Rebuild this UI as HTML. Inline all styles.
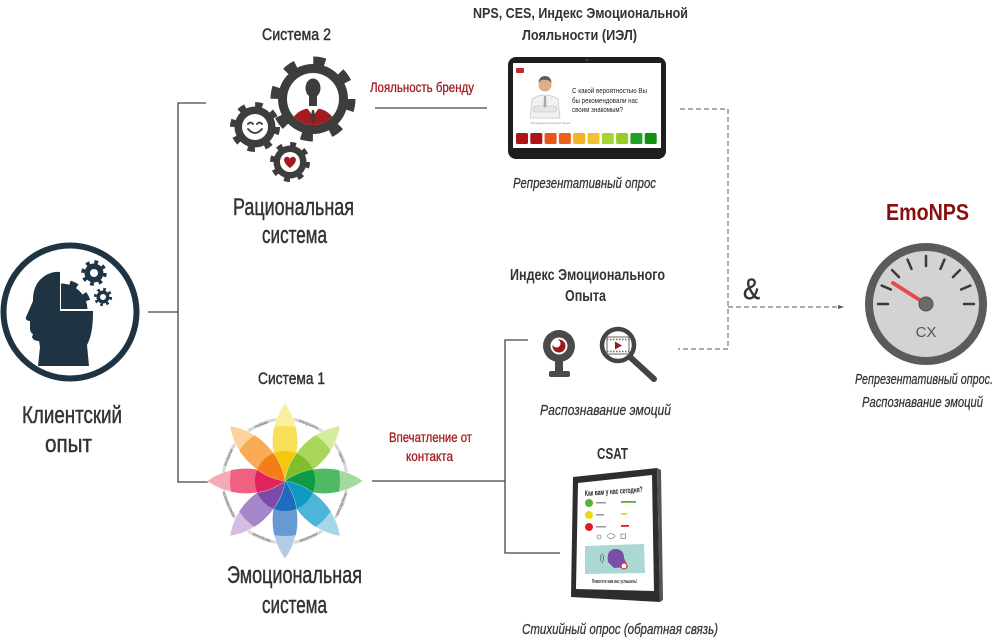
<!DOCTYPE html>
<html><head><meta charset="utf-8">
<style>
html,body{margin:0;padding:0;background:#fff;}
svg{display:block}
text{font-family:"Liberation Sans Narrow","Liberation Sans","DejaVu Sans",sans-serif;}
</style></head><body>
<svg width="1000" height="639" viewBox="0 0 1000 639" xmlns="http://www.w3.org/2000/svg">
<defs>
  <path id="pet" d="M0,0 C22,-16 55,-17 78,0 C55,17 22,16 0,0Z"/>
  <clipPath id="c55"><circle cx="0" cy="0" r="55"/></clipPath>
  <clipPath id="c30"><circle cx="0" cy="0" r="30"/></clipPath>
  <clipPath id="gearHead"><rect x="61" y="262" width="40" height="47"/></clipPath>
  <clipPath id="bigIn"><circle cx="313" cy="99" r="26"/></clipPath>
</defs>

<!-- connectors -->
<g stroke="#444" stroke-width="1.3" fill="none">
  <path d="M148,312 H178 M206,103 H178 V482 H210"/>
  <path d="M375,108 H487"/>
  <path d="M372,481 H505 M528,340 H505 V553 H560"/>
</g>
<g stroke="#777" stroke-width="1.2" fill="none" stroke-dasharray="5 3">
  <path d="M680,109 H728 V349 H678"/>
  <path d="M728,307 H839"/>
</g>
<polygon points="838,305 844,307 838,309" fill="#555"/>

<!-- head icon -->
<circle cx="70" cy="312" r="66.5" fill="none" stroke="#1e3443" stroke-width="6"/>
<path d="M60,272 C52,271 44,275 39,281 C34,287 33,294 33,301 L26,317 C25,319 27,321 30,321 L30,328 C30,331 31,333 33,334 L32,337 C33,340 36,341 39,341 L40,347 L38,366 L89,366 L87,345 C91,337 93,328 93,311 L60,311 Z" fill="#1e3443"/>
<g clip-path="url(#gearHead)">
  <circle cx="61" cy="310" r="26.5" fill="#1e3443"/>
  <circle cx="61" cy="310" r="28.5" fill="none" stroke="#1e3443" stroke-width="5" stroke-dasharray="8 9.9"/>
</g>
<circle cx="94" cy="273" r="9.5" fill="#1e3443"/>
<circle cx="94" cy="273" r="11" fill="none" stroke="#1e3443" stroke-width="3.5" stroke-dasharray="3.8 4.84"/>
<circle cx="94" cy="273" r="4" fill="#fff"/>
<circle cx="103" cy="297" r="6.5" fill="#1e3443"/>
<circle cx="103" cy="297" r="7.8" fill="none" stroke="#1e3443" stroke-width="2.6" stroke-dasharray="2.7 3.43"/>
<circle cx="103" cy="297" r="3" fill="#fff"/>

<!-- gears (System 2) -->
<g fill="#3d3d3d">
  <circle cx="313" cy="99" r="35"/>
  <circle cx="313" cy="99" r="38.5" fill="none" stroke="#3d3d3d" stroke-width="8" stroke-dasharray="12 18.24"/>
  <circle cx="255" cy="127" r="20.5"/>
  <circle cx="255" cy="127" r="22.5" fill="none" stroke="#3d3d3d" stroke-width="5" stroke-dasharray="7.5 10.17"/>
  <circle cx="290" cy="162" r="16.5"/>
  <circle cx="290" cy="162" r="18" fill="none" stroke="#3d3d3d" stroke-width="4" stroke-dasharray="6 8.14"/>
</g>
<circle cx="313" cy="99" r="26" fill="#fff"/>
<g clip-path="url(#bigIn)">
  <ellipse cx="313" cy="125" rx="22" ry="17" fill="#a31a1f"/>
  <polygon points="307,108 313,116 319,108" fill="#fff"/>
  <polygon points="312,110 314,110 315.5,119 313,123 310.5,119" fill="#3d3d3d"/>
  <rect x="309" y="96" width="8" height="10" fill="#3d3d3d"/>
  <ellipse cx="313" cy="88" rx="7.5" ry="9.5" fill="#3d3d3d"/>
</g>
<circle cx="255" cy="127" r="13" fill="#fff"/>
<g fill="none" stroke="#3d3d3d" stroke-width="1.8" stroke-linecap="round">
  <path d="M248,124 Q250.5,121 253,124"/>
  <path d="M257,124 Q259.5,121 262,124"/>
  <path d="M248,129 Q255,137 262,129"/>
</g>
<circle cx="290" cy="162" r="10" fill="#fff"/>
<path d="M290,168 C283,163 283,158 286,157 C288,156 290,158 290,159 C290,158 292,156 294,157 C297,158 297,163 290,168Z" fill="#a31a1f"/>

<!-- emotion wheel -->
<g transform="translate(285,481)">
  <circle cx="0" cy="0" r="62" fill="none" stroke="#d8d8d8" stroke-width="3"/>
  <g transform="rotate(-90)"><use href="#pet" fill="#fbeea0" stroke="#fff" stroke-width="0.6"/><use href="#pet" fill="#f9de5a" clip-path="url(#c55)"/><use href="#pet" fill="#f4c80c" clip-path="url(#c30)"/></g>
  <g transform="rotate(-45)"><use href="#pet" fill="#d4ec9c" stroke="#fff" stroke-width="0.6"/><use href="#pet" fill="#a9d65a" clip-path="url(#c55)"/><use href="#pet" fill="#80bf2a" clip-path="url(#c30)"/></g>
  <g transform="rotate(0)"><use href="#pet" fill="#a4d9a0" stroke="#fff" stroke-width="0.6"/><use href="#pet" fill="#4fb964" clip-path="url(#c55)"/><use href="#pet" fill="#0f9a45" clip-path="url(#c30)"/></g>
  <g transform="rotate(45)"><use href="#pet" fill="#a6d7e6" stroke="#fff" stroke-width="0.6"/><use href="#pet" fill="#4bb6d8" clip-path="url(#c55)"/><use href="#pet" fill="#0f98c3" clip-path="url(#c30)"/></g>
  <g transform="rotate(90)"><use href="#pet" fill="#b3cbe7" stroke="#fff" stroke-width="0.6"/><use href="#pet" fill="#6799d3" clip-path="url(#c55)"/><use href="#pet" fill="#1f6cbf" clip-path="url(#c30)"/></g>
  <g transform="rotate(135)"><use href="#pet" fill="#d3bde3" stroke="#fff" stroke-width="0.6"/><use href="#pet" fill="#a685c9" clip-path="url(#c55)"/><use href="#pet" fill="#7a4ba8" clip-path="url(#c30)"/></g>
  <g transform="rotate(180)"><use href="#pet" fill="#f6a9b6" stroke="#fff" stroke-width="0.6"/><use href="#pet" fill="#ee6183" clip-path="url(#c55)"/><use href="#pet" fill="#e0245a" clip-path="url(#c30)"/></g>
  <g transform="rotate(-135)"><use href="#pet" fill="#fcd39d" stroke="#fff" stroke-width="0.6"/><use href="#pet" fill="#f9ac55" clip-path="url(#c55)"/><use href="#pet" fill="#f47d1a" clip-path="url(#c30)"/></g>
  <g font-size="4" fill="#555">
    <text x="0" y="-60" transform="rotate(-22.5)" text-anchor="middle">любовь</text>
    <text x="0" y="-60" transform="rotate(22.5)" text-anchor="middle">покорность</text>
    <text x="0" y="-60" transform="rotate(67.5)" text-anchor="middle">трепет</text>
    <text x="0" y="-60" transform="rotate(112.5)" text-anchor="middle">неодобрение</text>
    <text x="0" y="-60" transform="rotate(157.5)" text-anchor="middle">раскаяние</text>
    <text x="0" y="-60" transform="rotate(-157.5)" text-anchor="middle">презрение</text>
    <text x="0" y="-60" transform="rotate(-112.5)" text-anchor="middle">агрессивность</text>
    <text x="0" y="-60" transform="rotate(-67.5)" text-anchor="middle">оптимизм</text>
  </g>
</g>

<!-- top tablet -->
<rect x="508" y="57" width="158" height="102" rx="8" fill="#1e1e1e"/>
<rect x="513" y="63" width="148" height="85" fill="#fff"/>
<circle cx="587" cy="60" r="1" fill="#555"/>
<rect x="516" y="68" width="8" height="5" rx="1" fill="#c0282d"/>
<path d="M530,118 L532,99 Q545,91 558,99 L560,118 Z" fill="#f1f1f1" stroke="#c8c8c8" stroke-width="0.8"/>
<rect x="533" y="106" width="24" height="6" rx="3" fill="#e6e6e6" stroke="#bbb" stroke-width="0.6"/>
<path d="M544,96 L546,96 L546.5,106 L545,108 L543.5,106 Z" fill="#aaa"/>
<circle cx="545" cy="85" r="6.5" fill="#dcae8a"/>
<path d="M538.5,83 Q539,76 545,76 Q551,76 551.5,83 Q548,79 545,80 Q541,79 538.5,83Z" fill="#6b5a4a"/>
<text x="531" y="124" font-size="3" fill="#888">Руководитель Сергей Лунин</text>
<g font-size="7.5" fill="#222">
  <text x="572" y="93" textLength="75" lengthAdjust="spacingAndGlyphs">С какой вероятностью Вы</text>
  <text x="572" y="103" textLength="66" lengthAdjust="spacingAndGlyphs">бы рекомендовали нас</text>
  <text x="572" y="112" textLength="51" lengthAdjust="spacingAndGlyphs">своим знакомым?</text>
</g>
<g>
  <rect x="516" y="133" width="12" height="11" rx="1.5" fill="#b01414"/>
  <rect x="530.3" y="133" width="12" height="11" rx="1.5" fill="#b01414"/>
  <rect x="544.6" y="133" width="12" height="11" rx="1.5" fill="#e8541a"/>
  <rect x="558.9" y="133" width="12" height="11" rx="1.5" fill="#ea621a"/>
  <rect x="573.2" y="133" width="12" height="11" rx="1.5" fill="#f2b424"/>
  <rect x="587.5" y="133" width="12" height="11" rx="1.5" fill="#f2c232"/>
  <rect x="601.8" y="133" width="12" height="11" rx="1.5" fill="#a6d432"/>
  <rect x="616.1" y="133" width="12" height="11" rx="1.5" fill="#96cc24"/>
  <rect x="630.4" y="133" width="12" height="11" rx="1.5" fill="#23a023"/>
  <rect x="644.7" y="133" width="12" height="11" rx="1.5" fill="#129012"/>
</g>

<!-- webcam -->
<circle cx="559" cy="346" r="16" fill="#4a4a4a"/>
<circle cx="559" cy="346" r="8.5" fill="#fff"/>
<circle cx="559" cy="346" r="6.5" fill="#9b1b1b"/>
<circle cx="556.5" cy="343.5" r="4" fill="#fff"/>
<rect x="555" y="360" width="8" height="12" fill="#4a4a4a"/>
<rect x="549" y="371" width="21" height="6" rx="2" fill="#4a4a4a"/>

<!-- magnifier -->
<line x1="630" y1="357" x2="654" y2="379" stroke="#444" stroke-width="6" stroke-linecap="round"/>
<circle cx="618" cy="345" r="16" fill="#fff" stroke="#444" stroke-width="4.5"/>
<rect x="607" y="337" width="22" height="17" fill="#fff" stroke="#666" stroke-width="1"/>
<line x1="607" y1="339.5" x2="629" y2="339.5" stroke="#666" stroke-width="1.5" stroke-dasharray="1.5 1.5"/>
<line x1="607" y1="351.5" x2="629" y2="351.5" stroke="#666" stroke-width="1.5" stroke-dasharray="1.5 1.5"/>
<polygon points="615,341.5 622,345.5 615,349.5" fill="#9b1b1b"/>

<!-- CSAT tablet -->
<polygon points="573,477 657,468 660,602 571,597" fill="#2d2d2d"/>
<polygon points="657,468 661,470 663,600 660,602" fill="#555"/>
<polygon points="578,483 652,475 654,591 576,589" fill="#fff"/>
<text x="585" y="496" font-size="8" font-weight="bold" fill="#222" transform="rotate(-4 585 496)" textLength="58" lengthAdjust="spacingAndGlyphs">Как вам у нас сегодня?</text>
<circle cx="589" cy="503" r="4" fill="#5ab030"/>
<circle cx="589" cy="515" r="4" fill="#e8d820"/>
<circle cx="589" cy="527" r="4" fill="#d82020"/>
<g fill="#999"><rect x="596" y="502" width="10" height="1.5"/><rect x="596" y="514" width="8" height="1.5"/><rect x="596" y="526" width="10" height="1.5"/></g>
<rect x="621" y="501" width="15" height="1.8" fill="#5ab030"/>
<rect x="621" y="513" width="6" height="1.8" fill="#e8d820"/>
<rect x="621" y="525" width="8" height="1.8" fill="#d82020"/>
<g fill="none" stroke="#888" stroke-width="0.8"><circle cx="599" cy="537" r="2"/><ellipse cx="611" cy="536" rx="3.5" ry="2.5"/><rect x="621" y="534" width="4.5" height="4.5"/></g>
<polygon points="585,546 644,544 645,573 585,574" fill="#a9d9d2"/>
<path d="M608,562 Q606,550 615,549 Q624,549 624,558 L628,567 L614,568 Z" fill="#7b4fa8"/>
<circle cx="624" cy="566" r="3" fill="#fff" stroke="#d82020" stroke-width="1"/>
<g fill="none" stroke="#555" stroke-width="0.7"><path d="M600,555 Q602,558 600,561"/><path d="M602,553 Q605,558 602,563"/></g>
<text x="592" y="583" font-size="5" font-weight="bold" fill="#333" textLength="45" lengthAdjust="spacingAndGlyphs">Помогите нам вас услышать!</text>

<!-- gauge -->
<circle cx="926" cy="304" r="57" fill="#d3d3d3" stroke="#5b5b5b" stroke-width="8"/>
<g stroke="#3a3a3a" stroke-width="2.5" stroke-linecap="round">
  <line x1="888" y1="304" x2="878" y2="304"/>
  <line x1="890.9" y1="289.5" x2="881.7" y2="285.6"/>
  <line x1="899.1" y1="277.1" x2="892.1" y2="270.1"/>
  <line x1="911.5" y1="268.9" x2="907.6" y2="259.7"/>
  <line x1="926" y1="266" x2="926" y2="256"/>
  <line x1="940.5" y1="268.9" x2="944.4" y2="259.7"/>
  <line x1="952.9" y1="277.1" x2="959.9" y2="270.1"/>
  <line x1="961.1" y1="289.5" x2="970.3" y2="285.6"/>
  <line x1="964" y1="304" x2="974" y2="304"/>
</g>
<line x1="926" y1="304" x2="893" y2="283" stroke="#e8484c" stroke-width="4" stroke-linecap="round"/>
<circle cx="926" cy="304" r="7" fill="#6b6b6b" stroke="#4f4f4f" stroke-width="1"/>
<text x="926" y="337" font-size="15" fill="#555" text-anchor="middle" style="font-family:'Liberation Sans',sans-serif">CX</text>

<!-- texts -->
<g fill="#333" stroke="#333" stroke-width="0.45">
  <text x="262" y="40" font-size="17" textLength="69" lengthAdjust="spacingAndGlyphs">Система 2</text>
  <text x="233" y="215" font-size="24" textLength="121" lengthAdjust="spacingAndGlyphs">Рациональная</text>
  <text x="262" y="243" font-size="24" textLength="65" lengthAdjust="spacingAndGlyphs">система</text>
  <text x="258" y="384" font-size="17" textLength="67" lengthAdjust="spacingAndGlyphs">Система 1</text>
  <text x="227" y="583" font-size="24" textLength="135" lengthAdjust="spacingAndGlyphs">Эмоциональная</text>
  <text x="262" y="613" font-size="24" textLength="65" lengthAdjust="spacingAndGlyphs">система</text>
  <text x="22" y="423" font-size="24" textLength="100" lengthAdjust="spacingAndGlyphs">Клиентский</text>
  <text x="45" y="452" font-size="24" textLength="47" lengthAdjust="spacingAndGlyphs">опыт</text>
  <text x="743" y="299" font-size="30" textLength="17" lengthAdjust="spacingAndGlyphs">&amp;</text>
</g>
<g fill="#333">
  <text x="473" y="18" font-size="15" font-weight="bold" textLength="215" lengthAdjust="spacingAndGlyphs">NPS, CES, Индекс Эмоциональной</text>
  <text x="522" y="40" font-size="15" font-weight="bold" textLength="115" lengthAdjust="spacingAndGlyphs">Лояльности (ИЭЛ)</text>
  <text x="510" y="280" font-size="16" font-weight="bold" textLength="155" lengthAdjust="spacingAndGlyphs">Индекс Эмоционального</text>
  <text x="565" y="301" font-size="16" font-weight="bold" textLength="41" lengthAdjust="spacingAndGlyphs">Опыта</text>
  <text x="597" y="459" font-size="16" font-weight="bold" textLength="31" lengthAdjust="spacingAndGlyphs">CSAT</text>
</g>
<g fill="#333" stroke="#333" stroke-width="0.25" font-style="italic" font-size="15">
  <text x="513" y="188" textLength="143" lengthAdjust="spacingAndGlyphs">Репрезентативный опрос</text>
  <text x="540" y="415" textLength="131" lengthAdjust="spacingAndGlyphs">Распознавание эмоций</text>
  <text x="522" y="634" textLength="196" lengthAdjust="spacingAndGlyphs">Стихийный опрос (обратная связь)</text>
  <text x="855" y="384" textLength="138" lengthAdjust="spacingAndGlyphs">Репрезентативный опрос.</text>
  <text x="862" y="407" textLength="121" lengthAdjust="spacingAndGlyphs">Распознавание эмоций</text>
</g>
<g fill="#a31a1f" stroke="#a31a1f" stroke-width="0.3">
  <text x="370" y="92" font-size="14" textLength="104" lengthAdjust="spacingAndGlyphs">Лояльность бренду</text>
  <text x="389" y="442" font-size="14" textLength="83" lengthAdjust="spacingAndGlyphs">Впечатление от</text>
  <text x="406" y="461" font-size="14" textLength="47" lengthAdjust="spacingAndGlyphs">контакта</text>
</g>
<text x="886" y="220" font-size="23" font-weight="bold" fill="#8b0e0e" textLength="83" lengthAdjust="spacingAndGlyphs">EmoNPS</text>
</svg>
</body></html>
